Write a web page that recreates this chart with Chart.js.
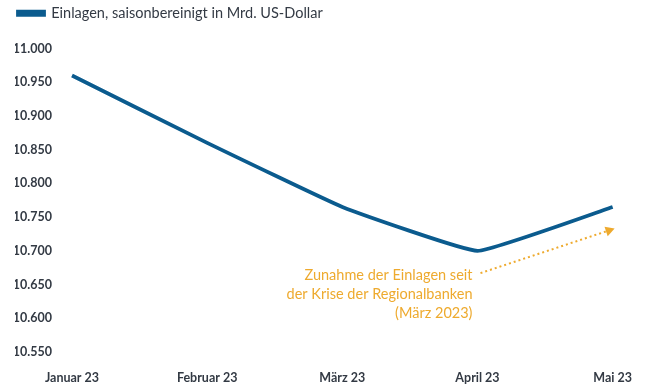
<!DOCTYPE html>
<html>
<head>
<meta charset="utf-8">
<style>
  html, body { margin: 0; padding: 0; background: #fff; }
  #wrap { width: 650px; height: 392px; }
</style>
<script src="https://cdn.jsdelivr.net/npm/chart.js@4.4.0/dist/chart.umd.min.js"></script>
</head>
<body>
<div id="wrap"><canvas id="chart" width="650" height="392"></canvas></div>
<script>
  // Daten (Mrd. US-Dollar)
  const months = ['Januar 23', 'Februar 23', 'März 23', 'April 23', 'Mai 23'];
  const deposits = [10960, 10860, 10765, 10700, 10765];
  const yTicks = [10550, 10600, 10650, 10700, 10750, 10800, 10850, 10900, 10950, 11000];

  // Anmerkung: Text + Pfeil (Kategorieindex, Wert)
  const noteLines = ['Zunahme der Einlagen seit', 'der Krise der Regionalbanken', '(März 2023)'];
  const arrowFrom = [3, 10667];
  const arrowTo = [4, 10733];

  const blue = '#0b5b8e';
  const orange = '#eeaa2e';
  const dark = '#333a44';

  // mehr Abstand unter der Legende
  const legendGap = {
    id: 'legendGap',
    beforeInit(chart) {
      const fit = chart.legend.fit;
      chart.legend.fit = function () {
        fit.call(this);
        this.height += 18;
      };
    }
  };

  const notePlugin = {
    id: 'note',
    afterDatasetsDraw(chart) {
      const { ctx, scales: { x, y } } = chart;
      const x0 = x.getPixelForValue(arrowFrom[0]) + 3;
      const y0 = y.getPixelForValue(arrowFrom[1]);
      const x1 = x.getPixelForValue(arrowTo[0]) + 2;
      const y1 = y.getPixelForValue(arrowTo[1]);
      ctx.save();
      // Text
      ctx.fillStyle = orange;
      ctx.font = '14.5px Lato';
      ctx.textAlign = 'right';
      ctx.textBaseline = 'middle';
      noteLines.forEach((t, i) => ctx.fillText(t, x0 - 8, y0 + 2 + i * 19));
      // gepunktete Linie
      const ang = Math.atan2(y1 - y0, x1 - x0);
      const hx = x1 - Math.cos(ang) * 9, hy = y1 - Math.sin(ang) * 9;
      ctx.strokeStyle = orange;
      ctx.lineWidth = 2;
      ctx.setLineDash([2, 3]);
      ctx.beginPath();
      ctx.moveTo(x0, y0);
      ctx.lineTo(hx, hy);
      ctx.stroke();
      // Pfeilspitze
      ctx.setLineDash([]);
      ctx.beginPath();
      ctx.moveTo(x1, y1);
      ctx.lineTo(hx + Math.sin(ang) * 5, hy - Math.cos(ang) * 5);
      ctx.lineTo(hx - Math.sin(ang) * 5, hy + Math.cos(ang) * 5);
      ctx.closePath();
      ctx.fill();
      ctx.restore();
    }
  };

  new Chart(document.getElementById('chart'), {
    type: 'line',
    data: {
      labels: months,
      datasets: [{
        label: 'Einlagen, saisonbereinigt in Mrd. US-Dollar',
        data: deposits,
        borderColor: blue,
        backgroundColor: blue,
        borderWidth: 3.8,
        pointRadius: 0,
        tension: 0.1
      }]
    },
    options: {
      responsive: false,
      animation: false,
      layout: { padding: { left: 15, right: 35, top: 3, bottom: 0 } },
      plugins: {
        legend: {
          align: 'start',
          labels: {
            boxWidth: 26,
            boxHeight: 3,
            padding: 3,
            color: dark,
            font: { family: 'Lato', size: 14.5 }
          }
        },
        tooltip: { enabled: false }
      },
      scales: {
        x: {
          offset: false,
          grid: { display: false, drawTicks: false },
          border: { display: false },
          ticks: {
            color: dark,
            padding: 18,
            maxRotation: 0,
            autoSkip: false,
            font: { family: 'Lato', size: 12.5, weight: 'bold' }
          },
          afterFit(s) { s.height = 40; }
        },
        y: {
          min: 10550,
          max: 11000,
          grid: { display: false, drawTicks: false },
          border: { display: false },
          afterBuildTicks(s) { s.ticks = yTicks.map(v => ({ value: v })); },
          afterFit(s) { s.width = 57; },
          ticks: {
            color: dark,
            padding: 20,
            font: { family: 'Lato', size: 12.5, weight: 'bold' },
            callback: v => v.toLocaleString('de-DE')
          }
        }
      }
    },
    plugins: [legendGap, notePlugin]
  });
</script>
</body>
</html>
